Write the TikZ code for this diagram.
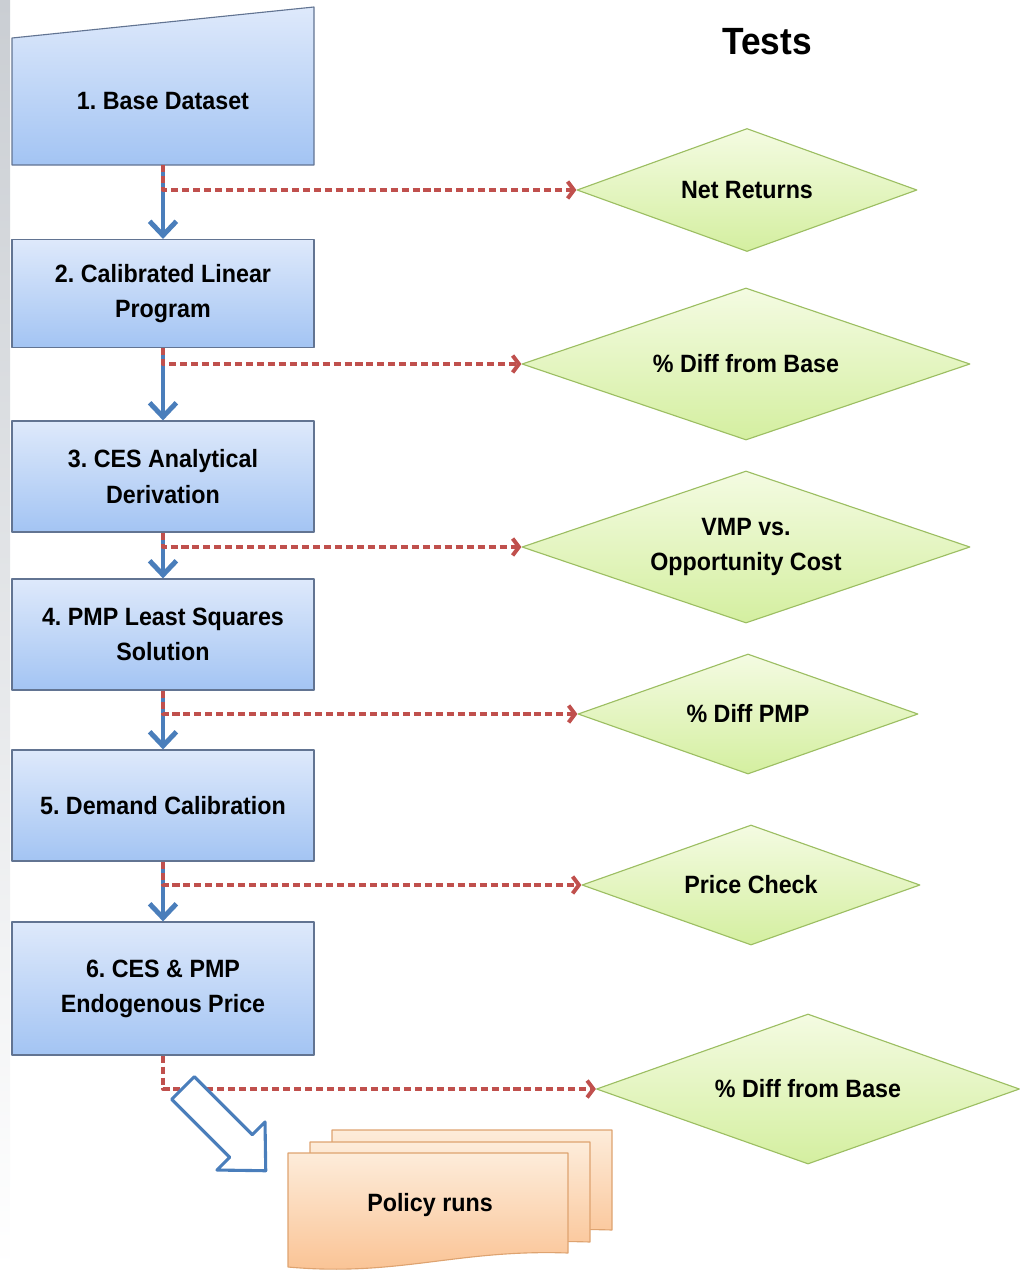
\documentclass[tikz,border=0pt]{standalone}
\usepackage{fontspec}
\setmainfont{Liberation Sans}[FakeStretch=0.93]
\usetikzlibrary{arrows.meta}
\usetikzlibrary{shapes.geometric}
\definecolor{boxtop}{RGB}{222,233,251}
\definecolor{boxbot}{RGB}{163,196,243}
\definecolor{boxline}{RGB}{98,116,146}
\definecolor{testtop}{RGB}{244,251,226}
\definecolor{testbot}{RGB}{212,239,160}
\definecolor{testline}{RGB}{156,190,98}
\definecolor{runtop}{RGB}{253,236,218}
\definecolor{runbot}{RGB}{250,193,145}
\definecolor{runline}{RGB}{222,163,112}
\definecolor{flowblue}{RGB}{74,126,187}
\definecolor{checkred}{RGB}{192,80,77}
\definecolor{stripgray}{RGB}{202,206,211}
\frenchspacing

\begin{document}
\begin{tikzpicture}[line join=round,x=0.025cm,y=-0.025cm,
  font=\bfseries\fontsize{17.8}{25}\selectfont,
  stepbox/.style={draw=boxline,line width=0.8pt,top color=boxtop,bottom color=boxbot,minimum width=7.55cm,inner sep=0pt,align=center},
  testbox/.style={diamond,aspect=3,draw=testline,line width=0.8pt,top color=testtop,bottom color=testbot,inner sep=0pt,align=center},
  flow/.style={draw=flowblue,line width=3.5pt,-{Straight Barb[length=10pt,width=19pt]}},
  check/.style={draw=checkred,line width=2.8pt,dash pattern=on 5pt off 2.8pt,-{Straight Barb[length=4.5pt,width=12pt]}}]
\useasboundingbox (0,0) rectangle (1023,1270);
\shade[top color=stripgray,bottom color=white] (0,0) rectangle (10,1270);

% steps
\shade[draw=boxline,line width=0.8pt,top color=boxtop,bottom color=boxbot] (12,165)--(314,165)--(314,7)--(12,38)--cycle;
\node[minimum width=7.55cm,minimum height=3.175cm,inner sep=0pt] (b1) at (163,101.5) {1. Base Dataset};
\node[stepbox,minimum height=2.7cm] (b2) at (163,293.5) {2. Calibrated Linear\\Program};
\node[stepbox,minimum height=2.775cm] (b3) at (163,476.5) {3. CES Analytical\\Derivation};
\node[stepbox,minimum height=2.775cm] (b4) at (163,634.5) {4. PMP Least Squares\\Solution};
\node[stepbox,minimum height=2.775cm] (b5) at (163,805.5) {5. Demand Calibration};
\node[stepbox,minimum height=3.325cm] (b6) at (163,988.5) {6. CES \& PMP\\Endogenous Price};

% tests
\node[font=\bfseries\fontsize{27}{30}\selectfont] (tests) at (767,42) {Tests};
\node[testbox,minimum width=8.5cm,minimum height=3.075cm] (d1) at (747,190) {Net Returns};
\node[testbox,minimum width=11.2cm,minimum height=3.8cm] (d2) at (746,364) {\% Diff from Base};
\node[testbox,minimum width=11.2cm,minimum height=3.8cm] (d3) at (746,547) {VMP vs.\\Opportunity Cost};
\node[testbox,minimum width=8.5cm,minimum height=3cm] (d4) at (748,714) {\% Diff PMP};
\node[testbox,minimum width=8.45cm,minimum height=3cm] (d5) at (751,885) {Price Check};
\node[testbox,minimum width=10.575cm,minimum height=3.75cm] (d6) at (808,1089) {\% Diff from Base};

\foreach \i/\j in {1/2,2/3,3/4,4/5,5/6}
  \draw[flow] (b\i.south) -- (b\j.north);
\foreach \i in {1,...,6}
  \draw[check] (b\i.south) |- (d\i.west);

% policy runs
\foreach \dx/\dy in {44/23,22/11,0/0}
  \shade[draw=runline,line width=0.8pt,top color=runtop,bottom color=runbot,shift={(288+\dx,1153-\dy)}]
    (0,0) -- (280,0) -- (280,100) .. controls (170,96) and (110,124) .. (0,114) -- cycle;
\node (runs) at (430,1205) {Policy runs};

\coordinate (blk) at (183,1088);
\draw[flowblue,line width=2.2pt,fill=white,shift={(blk)},rotate=-45]
  (0,-16) -- (82,-16) -- (82,-34) -- (117,0) -- (82,34) -- (82,16) -- (0,16) -- cycle;
%\draw[flow] (b6.south) -- (runs);
\end{tikzpicture}
\end{document}
